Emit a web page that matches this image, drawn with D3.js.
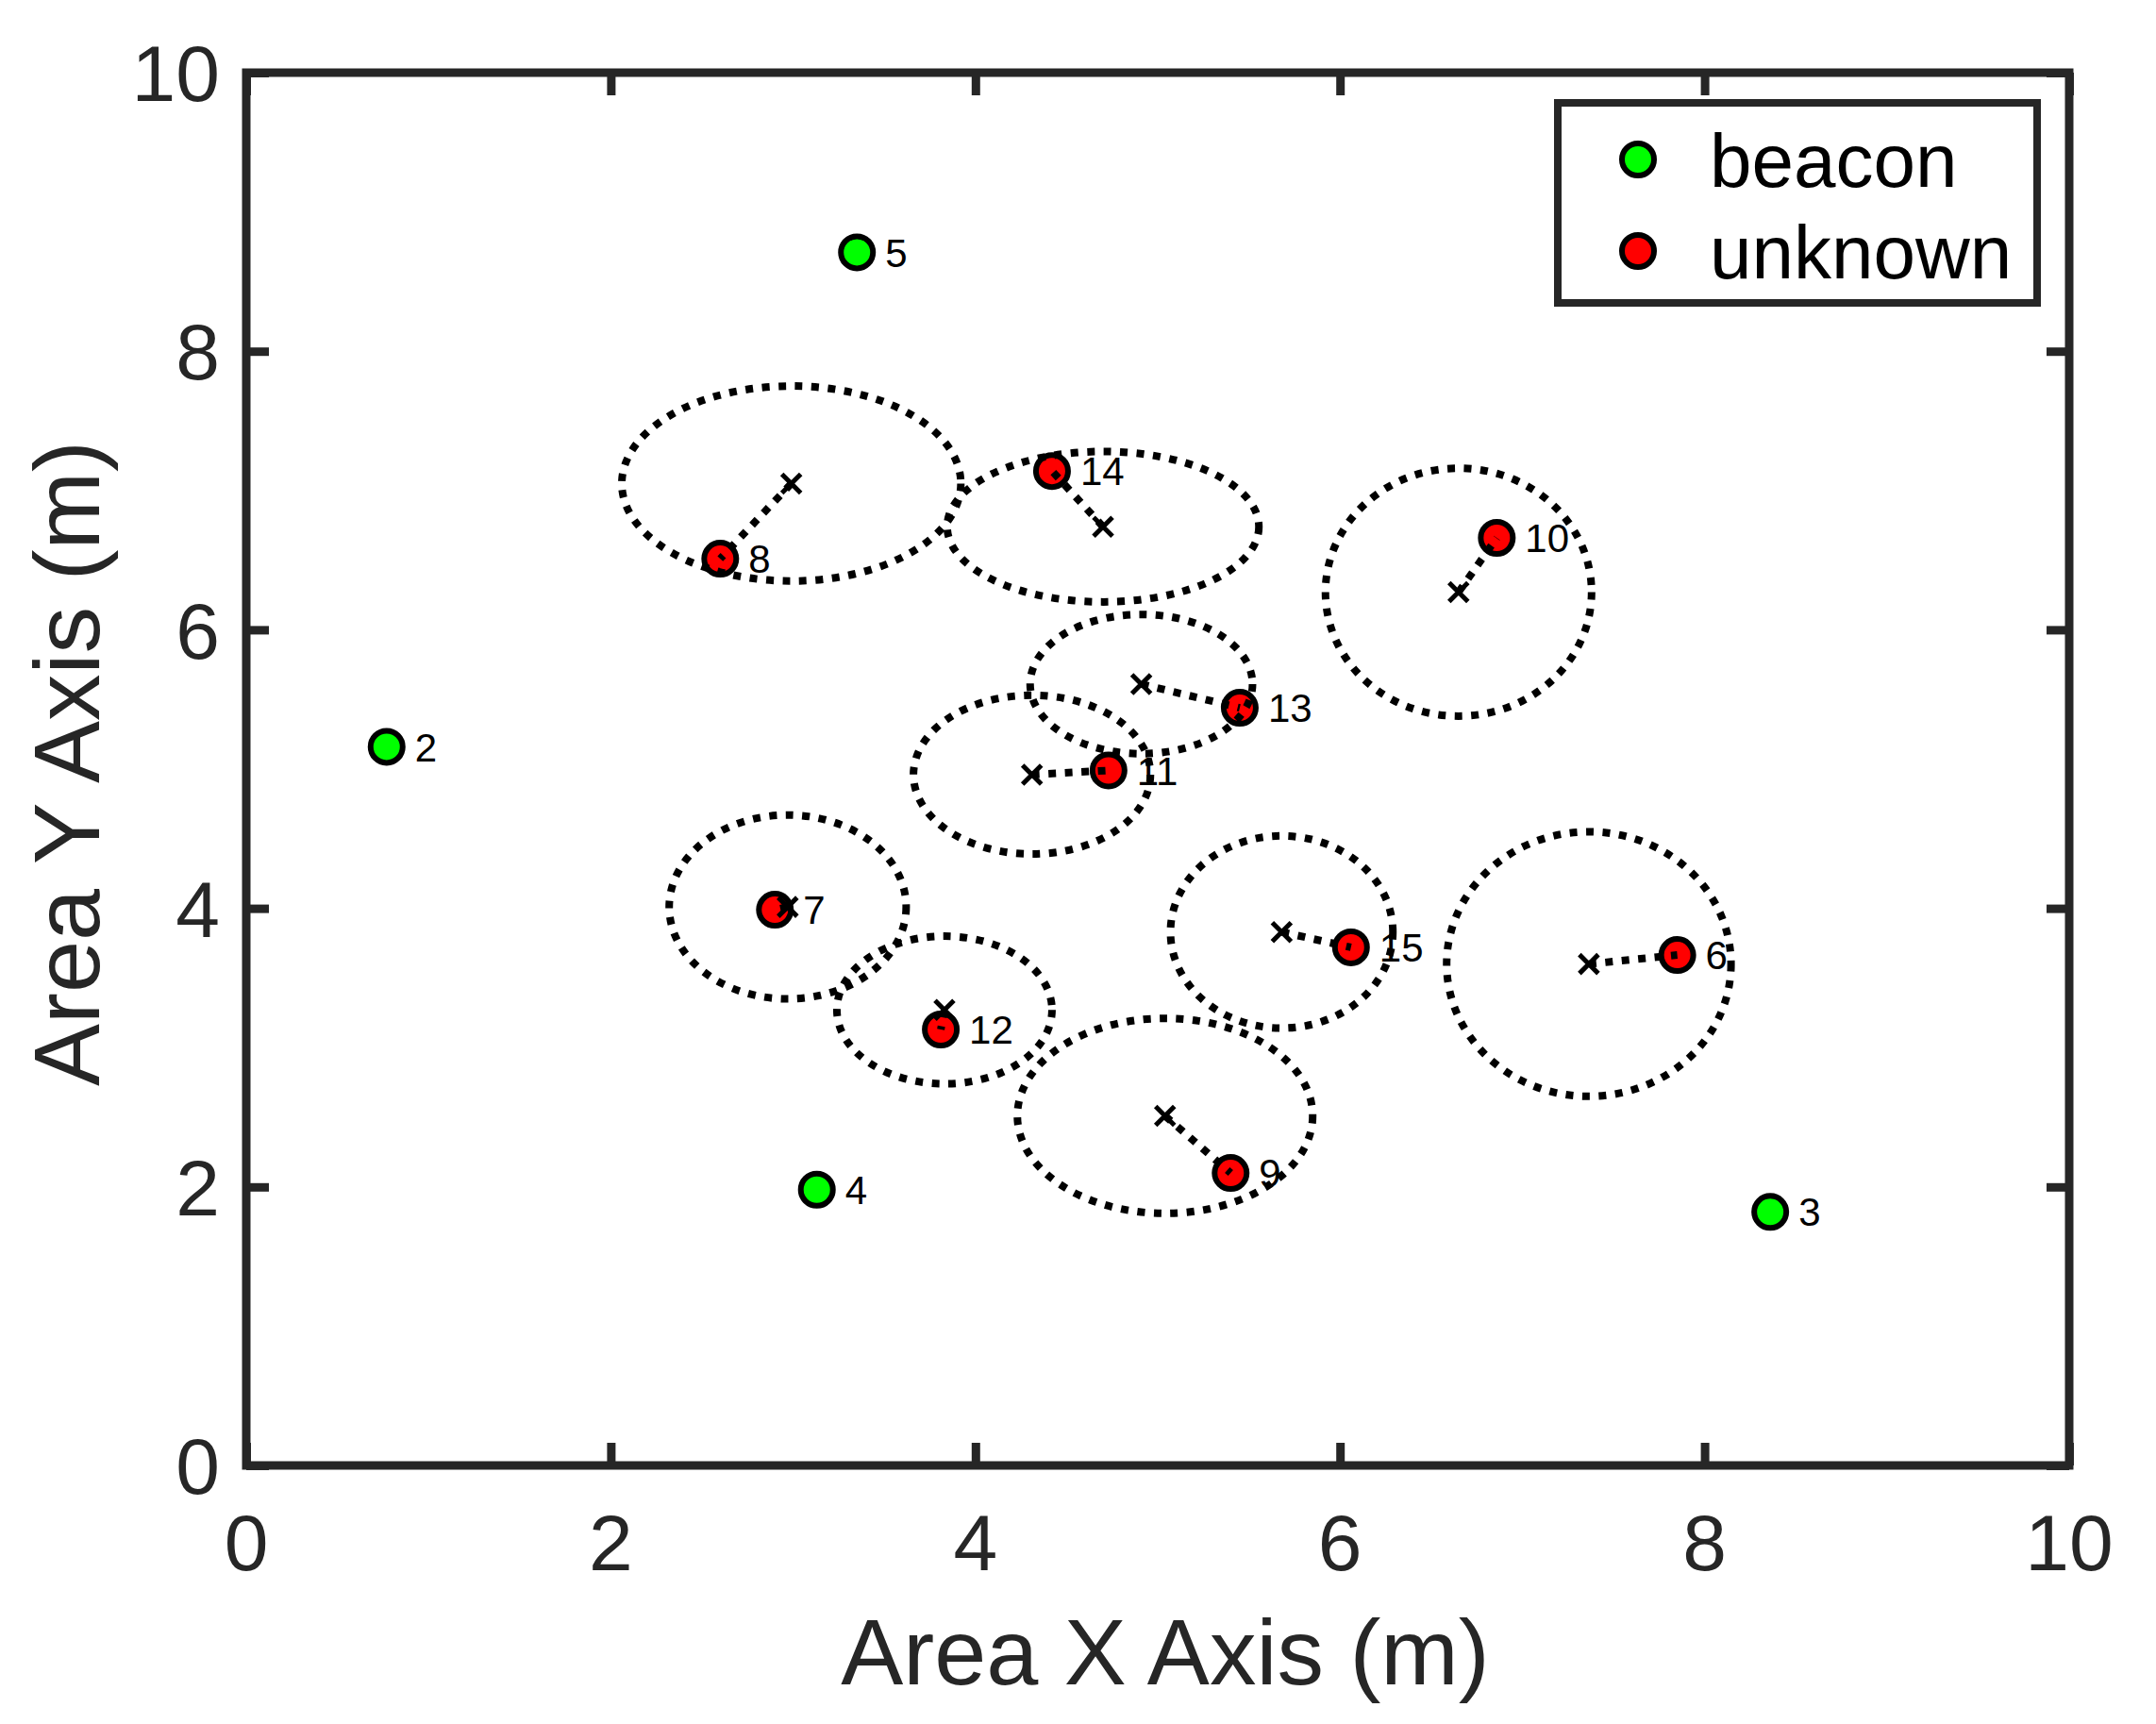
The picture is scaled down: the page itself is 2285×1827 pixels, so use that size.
<!DOCTYPE html>
<html>
<head>
<meta charset="utf-8">
<script src="https://cdn.jsdelivr.net/npm/d3@7"></script>
<style>
  body { margin: 0; background: #fff; }
  svg { display: block; font-family: "Liberation Sans", Arial, Helvetica, sans-serif; }
</style>
</head>
<body>
<div id="chart"></div>
<script>
// beacons (known anchors)
const beaconIds = [2, 3, 4, 5];
const beaconX = [0.77, 8.36, 3.13, 3.35];
const beaconY = [5.16, 1.82, 1.98, 8.71];

// unknown nodes: true position
const unknownIds = [6, 7, 8, 9, 10, 11, 12, 13, 14, 15];
const unknownX = [7.85, 2.90, 2.60, 5.40, 6.86, 4.73, 3.81, 5.45, 4.42, 6.06];
const unknownY = [3.665, 3.99, 6.51, 2.10, 6.66, 4.99, 3.13, 5.44, 7.14, 3.72];

// estimated position (x marks) and uncertainty ellipse radii
const estX = [7.365, 2.97, 2.99, 5.04, 6.65, 4.31, 3.83, 4.91, 4.70, 5.68];
const estY = [3.60, 4.01, 7.05, 2.51, 6.27, 4.96, 3.27, 5.61, 6.74, 3.83];
const radX = [0.78, 0.65, 0.93, 0.81, 0.73, 0.65, 0.59, 0.61, 0.855, 0.61];
const radY = [0.95, 0.66, 0.70, 0.70, 0.89, 0.57, 0.53, 0.50, 0.54, 0.69];

const xTicks = [0, 2, 4, 6, 8, 10];
const yTicks = [0, 2, 4, 6, 8, 10];
const legendLabels = ["beacon", "unknown"];

const W = 2285, H = 1827;
const plot = { left: 261, right: 2193, top: 77, bottom: 1553 };
const axisColor = "#262626";

const x = d3.scaleLinear().domain([0, 10]).range([plot.left, plot.right]);
const y = d3.scaleLinear().domain([0, 10]).range([plot.bottom, plot.top]);

const svg = d3.select("#chart").append("svg")
  .attr("width", W).attr("height", H);

const beacons = beaconIds.map((id, i) => ({ id, x: beaconX[i], y: beaconY[i] }));
const unknowns = unknownIds.map((id, i) => ({
  id, x: unknownX[i], y: unknownY[i],
  ex: estX[i], ey: estY[i], rx: radX[i], ry: radY[i]
}));

// ticks on all four sides, pointing inward
const tickLen = 24;
const xAxisB = d3.axisBottom(x).tickValues(xTicks).tickSize(-tickLen).tickFormat("");
const xAxisT = d3.axisTop(x).tickValues(xTicks).tickSize(-tickLen).tickFormat("");
const yAxisL = d3.axisLeft(y).tickValues(yTicks).tickSize(-tickLen).tickFormat("");
const yAxisR = d3.axisRight(y).tickValues(yTicks).tickSize(-tickLen).tickFormat("");

function styleAxis(g) {
  g.select(".domain").remove();
  g.selectAll(".tick line").attr("stroke", axisColor).attr("stroke-width", 9);
}
svg.append("g").attr("transform", `translate(0,${plot.bottom})`).call(xAxisB).call(styleAxis);
svg.append("g").attr("transform", `translate(0,${plot.top})`).call(xAxisT).call(styleAxis);
svg.append("g").attr("transform", `translate(${plot.left},0)`).call(yAxisL).call(styleAxis);
svg.append("g").attr("transform", `translate(${plot.right},0)`).call(yAxisR).call(styleAxis);

// box
svg.append("rect")
  .attr("x", plot.left).attr("y", plot.top)
  .attr("width", plot.right - plot.left).attr("height", plot.bottom - plot.top)
  .attr("fill", "none").attr("stroke", axisColor).attr("stroke-width", 9);

// tick labels
svg.append("g").selectAll("text").data(xTicks).enter().append("text")
  .attr("x", d => x(d)).attr("y", 1664)
  .attr("text-anchor", "middle")
  .attr("font-size", 84).attr("fill", axisColor)
  .text(d => d);

svg.append("g").selectAll("text").data(yTicks).enter().append("text")
  .attr("x", 233).attr("y", d => y(d)).attr("dy", "0.36em")
  .attr("text-anchor", "end")
  .attr("font-size", 84).attr("fill", axisColor)
  .text(d => d);

// axis titles
svg.append("text")
  .attr("x", (plot.left + plot.right) / 2 + 8).attr("y", 1785)
  .attr("text-anchor", "middle").attr("font-size", 99).attr("fill", axisColor)
  .text("Area X Axis (m)");

svg.append("text")
  .attr("transform", `translate(105,${(plot.top + plot.bottom) / 2 - 6}) rotate(-90)`)
  .attr("text-anchor", "middle").attr("font-size", 99).attr("fill", axisColor)
  .text("Area Y Axis (m)");

const markerR = 17;
const markerSW = 6;

// beacon markers
svg.append("g").selectAll("circle").data(beacons).enter().append("circle")
  .attr("cx", d => x(d.x)).attr("cy", d => y(d.y)).attr("r", markerR)
  .attr("fill", "#00ff00").attr("stroke", "#000").attr("stroke-width", markerSW);

// unknown markers
svg.append("g").selectAll("circle").data(unknowns).enter().append("circle")
  .attr("cx", d => x(d.x)).attr("cy", d => y(d.y)).attr("r", markerR)
  .attr("fill", "#ff0000").attr("stroke", "#000").attr("stroke-width", markerSW);

// node labels
const nodeLabels = beacons.concat(unknowns);
svg.append("g").selectAll("text").data(nodeLabels).enter().append("text")
  .attr("x", d => x(d.x) + 30).attr("y", d => y(d.y)).attr("dy", "0.36em")
  .attr("font-size", 42).attr("fill", "#000")
  .text(d => d.id);

// dotted error lines and uncertainty ellipses
const dotted = { stroke: "#000", width: 8, dash: "8 9.5" };
const line = d3.line();
svg.append("g").selectAll("path").data(unknowns).enter().append("path")
  .attr("d", d => line([[x(d.ex), y(d.ey)], [x(d.x), y(d.y)]]))
  .attr("fill", "none").attr("stroke", dotted.stroke)
  .attr("stroke-width", dotted.width).attr("stroke-dasharray", dotted.dash);

svg.append("g").selectAll("ellipse").data(unknowns).enter().append("ellipse")
  .attr("cx", d => x(d.ex)).attr("cy", d => y(d.ey))
  .attr("rx", d => x(d.rx) - x(0)).attr("ry", d => y(0) - y(d.ry))
  .attr("fill", "none").attr("stroke", dotted.stroke)
  .attr("stroke-width", dotted.width).attr("stroke-dasharray", dotted.dash);

// estimate x marks
const xm = 10;
svg.append("g").selectAll("path").data(unknowns).enter().append("path")
  .attr("d", d => {
    const cx = x(d.ex), cy = y(d.ey);
    return `M${cx - xm},${cy - xm}L${cx + xm},${cy + xm}M${cx - xm},${cy + xm}L${cx + xm},${cy - xm}`;
  })
  .attr("stroke", "#000").attr("stroke-width", 5).attr("fill", "none");

// legend
const legend = svg.append("g");
legend.append("rect")
  .attr("x", 1651).attr("y", 109).attr("width", 508).attr("height", 212)
  .attr("fill", "#fff").attr("stroke", axisColor).attr("stroke-width", 8);
const legendColors = ["#00ff00", "#ff0000"];
legend.selectAll("circle").data(legendLabels).enter().append("circle")
  .attr("cx", 1736).attr("cy", (d, i) => 169 + i * 97).attr("r", markerR)
  .attr("fill", (d, i) => legendColors[i]).attr("stroke", "#000").attr("stroke-width", markerSW);
legend.selectAll("text").data(legendLabels).enter().append("text")
  .attr("x", 1812).attr("y", (d, i) => 169 + i * 97).attr("dy", "0.36em")
  .attr("font-size", 80).attr("fill", "#000")
  .text(d => d);
</script>
</body>
</html>
